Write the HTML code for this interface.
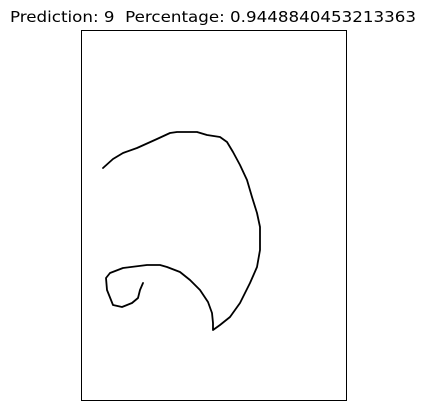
<!DOCTYPE html>
<html><head><meta charset="utf-8"><style>body{margin:0;background:#fff}svg{display:block}</style></head>
<body>
<svg width="426" height="413" xmlns="http://www.w3.org/2000/svg">
<rect width="426" height="413" fill="#fff"/>
<text x="213" y="22" text-anchor="middle" font-family="'DejaVu Sans', sans-serif" font-size="15" textLength="406" lengthAdjust="spacingAndGlyphs">Prediction: 9&#160; Percentage: 0.9448840453213363</text>
<rect x="81.5" y="30.5" width="265" height="370" fill="none" stroke="#000" stroke-width="1"/>
<g id="plot"></g>
</svg>
<script>
const strokeX=[22,32,42,56,76,89,96,116,126,139,146,152,159,166,171,176,179,179,176,169,159,149,139,132,132,131,127,119,109,99,86,79,66,42,29,25,26,32,41,51,57,59,62];
const strokeY=[138,129,123,118,109,103,102,102,105,107,112,122,135,150,167,183,197,220,237,253,273,287,295,300,293,283,272,260,250,242,237,235,235,238,243,248,260,275,277,273,268,260,253];
const X0=81,Y0=30;
const sx=v=>X0+v, sy=v=>Y0+v;
const g=document.getElementById('plot');
const p=document.createElementNS('http://www.w3.org/2000/svg','polyline');
p.setAttribute('points',strokeX.map((x,i)=>sx(x)+','+sy(strokeY[i])).join(' '));
p.setAttribute('fill','none');p.setAttribute('stroke','#000');p.setAttribute('stroke-width','1.8');
p.setAttribute('stroke-linejoin','round');p.setAttribute('stroke-linecap','round');


g.appendChild(p);
</script>
</body></html>
